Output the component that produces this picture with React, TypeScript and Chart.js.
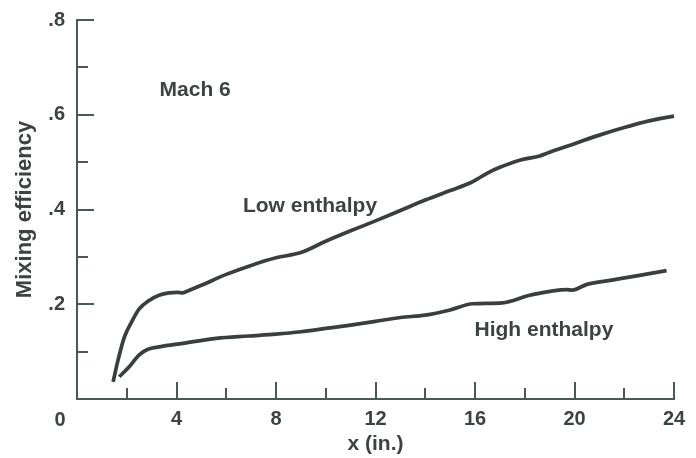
import React, { useEffect, useRef } from 'react';
import { Chart, registerables } from 'chart.js';

Chart.register(...registerables);

// Low enthalpy curve (x in inches, mixing efficiency)
const lowX = [1.45, 1.65, 1.9, 2.2, 2.5, 2.9, 3.3, 3.7, 4.05, 4.25, 4.4, 5, 6, 7, 8, 9, 10, 11, 12, 13, 14, 15, 15.8, 16.05, 16.5, 17, 17.8, 18.6, 19, 20, 21, 22, 23, 24, 24.3];
const lowY = [0.036, 0.082, 0.13, 0.163, 0.19, 0.208, 0.219, 0.224, 0.225, 0.224, 0.227, 0.24, 0.263, 0.282, 0.298, 0.309, 0.333, 0.355, 0.376, 0.398, 0.42, 0.44, 0.456, 0.463, 0.477, 0.489, 0.504, 0.513, 0.521, 0.539, 0.557, 0.573, 0.587, 0.597, 0.599];

// High enthalpy curve
const highX = [1.7, 2.1, 2.5, 2.85, 3.3, 4.25, 5.6, 6.9, 8, 9, 10, 11, 12, 13, 14, 15, 15.9, 17.1, 18.2, 19.7, 19.9, 20.5, 21.5, 22.5, 23.7];
const highY = [0.047, 0.068, 0.093, 0.105, 0.11, 0.1175, 0.128, 0.133, 0.137, 0.142, 0.149, 0.156, 0.164, 0.172, 0.177, 0.188, 0.201, 0.203, 0.219, 0.231, 0.23, 0.242, 0.251, 0.26, 0.271];

// Axis ticks
const xMajorTicks = [0, 4, 8, 12, 16, 20, 24];
const xMinorTicks = [2, 6, 10, 14, 18, 22];
const yMajorTicks = [0.2, 0.4, 0.6, 0.8];
const yMinorTicks = [0.1, 0.3, 0.5, 0.7];

const seriesNames = ['Low enthalpy', 'High enthalpy'];
const noteTexts = ['Mach 6', 'Low enthalpy', 'High enthalpy'];

const FONT = '"Liberation Sans", Arial, Helvetica, sans-serif';
const TEXT = '#3d4341';
const AXIS = '#4a5752';
const LINE = '#3a3e3e';

export default function App() {
  const ref = useRef<HTMLCanvasElement>(null);

  useEffect(() => {
    if (!ref.current) return;
    // annotation anchors in data coordinates (left, baseline)
    const noteAnchors = [
      { x: 3.32, y: 0.64 },
      { x: 6.67, y: 0.395 },
      { x: 15.98, y: 0.133 },
    ];
    const decor = {
      id: 'decor',
      afterDraw(chart: any) {
        const { ctx, scales } = chart;
        const xs = scales.x;
        const ys = scales.y;
        const x0 = Math.round(xs.getPixelForValue(0));
        const x1 = Math.round(xs.getPixelForValue(24));
        const y0 = Math.round(ys.getPixelForValue(0));
        const y1 = Math.round(ys.getPixelForValue(0.8));
        ctx.save();
        ctx.strokeStyle = AXIS;
        ctx.lineWidth = 2;
        ctx.lineCap = 'butt';
        ctx.beginPath();
        ctx.moveTo(x0, y1 - 1);
        ctx.lineTo(x0, y0);
        ctx.moveTo(x0 - 1, y0);
        ctx.lineTo(x1 + 1, y0);
        yMajorTicks.forEach((v) => {
          const p = Math.round(ys.getPixelForValue(v));
          ctx.moveTo(x0, p);
          ctx.lineTo(x0 + 17, p);
        });
        yMinorTicks.forEach((v) => {
          const p = Math.round(ys.getPixelForValue(v));
          ctx.moveTo(x0, p);
          ctx.lineTo(x0 + 11, p);
        });
        xMajorTicks.forEach((v) => {
          if (v === 0) return;
          const p = Math.round(xs.getPixelForValue(v));
          ctx.moveTo(p, y0);
          ctx.lineTo(p, y0 - 17);
        });
        xMinorTicks.forEach((v) => {
          const p = Math.round(xs.getPixelForValue(v));
          ctx.moveTo(p, y0);
          ctx.lineTo(p, y0 - 11);
        });
        ctx.stroke();

        ctx.fillStyle = TEXT;
        ctx.font = `bold 20px ${FONT}`;
        ctx.textAlign = 'center';
        ctx.textBaseline = 'middle';
        ctx.fillText('0', x0 - 17, y0 + 21);

        ctx.font = `bold 21px ${FONT}`;
        ctx.textAlign = 'left';
        ctx.textBaseline = 'alphabetic';
        noteTexts.forEach((t, i) => {
          const a = noteAnchors[i];
          ctx.fillText(t, xs.getPixelForValue(a.x), ys.getPixelForValue(a.y));
        });
        ctx.restore();
      },
    };

    const mk = (xv: number[], yv: number[]) => xv.map((x, i) => ({ x, y: yv[i] }));

    const chart = new Chart(ref.current, {
      type: 'line',
      data: {
        datasets: [
          {
            label: seriesNames[0],
            data: mk(lowX, lowY),
            borderColor: LINE,
            borderWidth: 3.7,
            pointRadius: 0,
            cubicInterpolationMode: 'monotone',
            fill: false,
            clip: false,
          } as any,
          {
            label: seriesNames[1],
            data: mk(highX, highY),
            borderColor: LINE,
            borderWidth: 3.7,
            pointRadius: 0,
            cubicInterpolationMode: 'monotone',
            fill: false,
            clip: false,
          } as any,
        ],
      },
      options: {
        responsive: false,
        animation: false,
        layout: { padding: { top: 20, right: 22, left: 0, bottom: 0 } },
        plugins: { legend: { display: false }, tooltip: { enabled: false } },
        scales: {
          x: {
            type: 'linear',
            min: 0,
            max: 24,
            grid: { display: false, drawTicks: false },
            border: { display: false },
            afterBuildTicks: (s: any) => {
              s.ticks = xMajorTicks.map((v) => ({ value: v }));
            },
            ticks: {
              autoSkip: false,
              maxRotation: 0,
              padding: 8,
              color: TEXT,
              font: { family: FONT, size: 20, weight: 'bold' },
              callback: (v: any) => (v === 0 ? '' : String(v)),
            },
            title: {
              display: true,
              text: 'x (in.)',
              color: TEXT,
              font: { family: FONT, size: 21, weight: 'bold' },
              padding: { top: 0, bottom: 1 },
            },
            afterFit: (s: any) => {
              s.height = 59;
            },
          },
          y: {
            type: 'linear',
            min: 0,
            max: 0.8,
            grid: { display: false, drawTicks: false },
            border: { display: false },
            afterBuildTicks: (s: any) => {
              s.ticks = yMajorTicks.map((v) => ({ value: v }));
            },
            ticks: {
              padding: 12,
              color: TEXT,
              font: { family: FONT, size: 20, weight: 'bold', lineHeight: 0.8 },
              callback: (v: any) => Number(v).toFixed(1).replace(/^0/, ''),
            },
            title: {
              display: true,
              text: 'Mixing efficiency',
              color: TEXT,
              font: { family: FONT, size: 22, weight: 'bold' },
              padding: { top: 12, bottom: 0 },
            },
            afterFit: (s: any) => {
              s.width = 77;
            },
          },
        },
      } as any,
      plugins: [decor],
    });
    return () => chart.destroy();
  }, []);

  return (
    <div style={{ position: 'absolute', left: 0, top: 0, width: 696, height: 458, background: '#fff' }}>
      <canvas ref={ref} width={696} height={458} />
    </div>
  );
}
